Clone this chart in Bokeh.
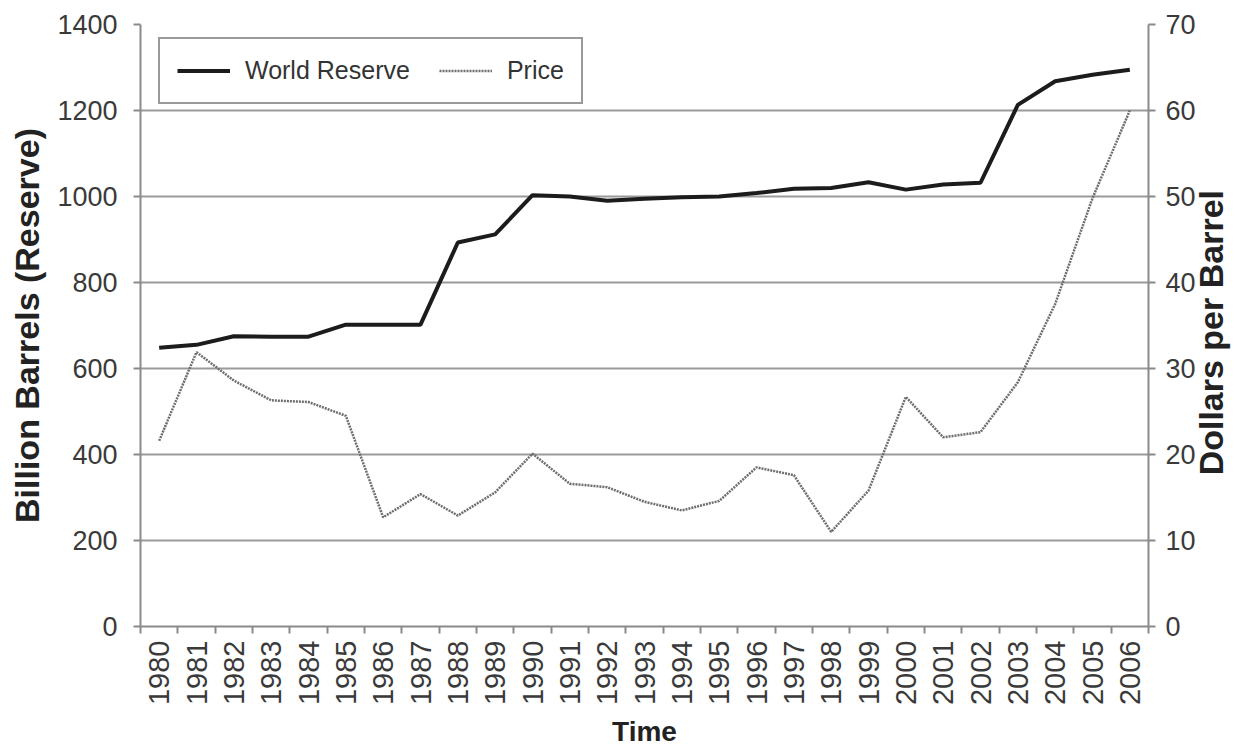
import math
from bokeh.plotting import figure
from bokeh.models import Range1d, LinearAxis, FixedTicker, Legend, LegendItem
from bokeh.embed import file_html
from bokeh.resources import INLINE

years = list(range(1980, 2007))
reserve = [648, 655, 675, 674, 674, 702, 702, 702, 893, 912, 1003, 1000, 990, 995,
           998, 1000, 1008, 1018, 1020, 1033, 1016, 1028, 1032, 1213, 1268, 1283, 1295]
price = [21.6, 31.9, 28.6, 26.3, 26.1, 24.5, 12.7, 15.4, 12.9, 15.6, 20.1, 16.6, 16.2, 14.5,
         13.5, 14.6, 18.5, 17.6, 11.0, 15.8, 26.7, 22.0, 22.6, 28.4, 37.5, 49.8, 60.0]
reserve_ticks = [0, 200, 400, 600, 800, 1000, 1200, 1400]
price_ticks = [0, 10, 20, 30, 40, 50, 60, 70]

FONT = "Liberation Sans"
FW, FH = 1008, 602
BL, BR, BT, BB = 140, 97, 24, 123

p = figure(frame_width=FW, frame_height=FH, output_backend="svg", toolbar_location=None,
           x_range=Range1d(years[0] - 0.5, years[-1] + 0.5),
           y_range=Range1d(reserve_ticks[0], reserve_ticks[-1]),
           min_border_left=BL, min_border_right=BR, min_border_top=BT, min_border_bottom=BB,
           x_axis_label="Time", y_axis_label="Billion Barrels (Reserve)")
p.extra_y_ranges = {"price": Range1d(price_ticks[0], price_ticks[-1])}
p.outline_line_color = None
p.background_fill_color = "white"
p.border_fill_color = "white"

# grid
p.xgrid.visible = False
p.ygrid.ticker = FixedTicker(ticks=reserve_ticks)
p.ygrid.grid_line_color = "#9a9a9a"
p.ygrid.grid_line_width = 2

AX_COL = "#8a8a8a"

def style_axis(ax, tick_size, title_size):
    ax.axis_line_color = AX_COL
    ax.axis_line_width = 2
    ax.major_tick_line_color = AX_COL
    ax.major_tick_line_width = 2
    ax.minor_tick_line_color = AX_COL
    ax.minor_tick_line_width = 2
    ax.major_label_text_font = FONT
    ax.major_label_text_font_size = tick_size
    ax.major_label_text_color = "#3a3a3a"
    ax.axis_label_text_font = FONT
    ax.axis_label_text_font_size = title_size
    ax.axis_label_text_font_style = "bold"
    ax.axis_label_text_color = "#222222"

# left axis
ly = p.yaxis[0]
style_axis(ly, "27px", "34px")
ly.ticker = FixedTicker(ticks=reserve_ticks)
ly.major_tick_out = 7
ly.major_tick_in = 0
ly.minor_tick_out = 0
ly.minor_tick_in = 0
ly.major_label_standoff = 16
ly.axis_label_standoff = 8

# right axis: title reads bottom-to-top, anchored at the axis start and
# lifted to the middle with non-breaking spaces
ry = LinearAxis(y_range_name="price", ticker=FixedTicker(ticks=price_ticks),
                axis_label="\u00a0" * 16 + "Dollars per Barrel")
style_axis(ry, "27px", "34px")
ry.major_tick_out = 7
ry.major_tick_in = 0
ry.minor_tick_out = 0
ry.minor_tick_in = 0
ry.major_label_standoff = 10
ry.axis_label_standoff = 12
ry.axis_label_orientation = math.pi / 2
ry.axis_label_align = "start"
p.add_layout(ry, "right")

# bottom axis
bx = p.xaxis[0]
style_axis(bx, "29px", "28px")
bx.ticker = FixedTicker(ticks=years, minor_ticks=[y - 0.5 for y in years] + [years[-1] + 0.5])
bx.major_tick_out = 0
bx.major_tick_in = 0
bx.minor_tick_out = 7
bx.minor_tick_in = 0
bx.major_label_orientation = math.pi / 2
bx.major_label_standoff = 7
bx.axis_label_standoff = 8
bx.major_label_overrides = {y: str(y) for y in years}

r1 = p.line(years, reserve, line_color="#1c1c1c", line_width=4)
r2 = p.line(years, price, y_range_name="price", line_color="#6e6e6e",
            line_width=2.5, line_dash="2 1")

legend = Legend(items=[LegendItem(label="World Reserve", renderers=[r1]),
                       LegendItem(label="Price", renderers=[r2])],
                orientation="horizontal", location=(18, FH - 13 - 67))
legend.border_line_color = "#333333"
legend.border_line_width = 2
legend.background_fill_color = "white"
legend.background_fill_alpha = 1
legend.padding = 17
legend.spacing = 29
legend.glyph_width = 53
legend.glyph_height = 29
legend.label_height = 29
legend.label_standoff = 15
legend.label_text_font = FONT
legend.label_text_font_size = "25px"
legend.label_text_color = "#333333"
legend.margin = 0
p.add_layout(legend)

open("out.html", "w").write(file_html(p, INLINE))
